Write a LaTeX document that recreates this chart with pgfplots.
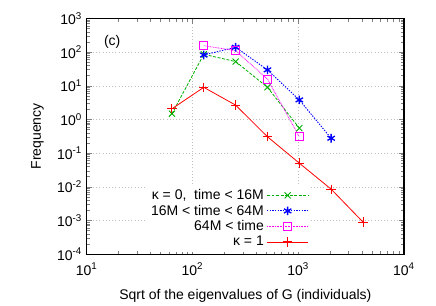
\documentclass[border=0pt]{standalone}
\usepackage{pgfplots}
\pgfplotsset{compat=1.18}
\usepackage{fontspec}
\setmainfont{Liberation Sans}
\definecolor{gnugreen}{RGB}{0,175,0}
\definecolor{gnublue}{RGB}{0,0,255}
\definecolor{gnumag}{RGB}{255,0,255}
\begin{document}
\begin{tikzpicture}[font=\fontsize{10.5}{12}\selectfont]
\useasboundingbox (-65pt,-38pt) rectangle (262pt,190.75pt);
\begin{axis}[
  scale only axis,
  width=238pt, height=176.8pt,
  xmode=log, ymode=log,
  xmin=10, xmax=10000, ymin=1e-4, ymax=1000,
  axis line style={line width=1.1pt},
  xtick={10,100,1000,10000},
  xticklabels={10\textsuperscript{1},10\textsuperscript{2},10\textsuperscript{3},10\textsuperscript{4}},
  ytick={1e-4,1e-3,1e-2,1e-1,1,10,100,1000},
  yticklabels={10\textsuperscript{-4},10\textsuperscript{-3},10\textsuperscript{-2},10\textsuperscript{-1},10\textsuperscript{0},10\textsuperscript{1},10\textsuperscript{2},10\textsuperscript{3}},
  tick label style={font=\fontsize{10.5}{12}\selectfont},
  xticklabel style={yshift=-3pt},
  tick align=inside,
  major tick length=4pt, minor tick length=2.2pt,
  tick style={line width=0.6pt},
  grid=major,
  major grid style={gray!50, dotted, line width=0.5pt},
  xlabel={Sqrt of the eigenvalues of G (individuals)},
  ylabel={Frequency},
  label style={font=\fontsize{10.5}{12}\selectfont},
  xlabel style={yshift=-4pt},
  ylabel style={yshift=3pt},
  legend style={draw=none, fill=white, anchor=south east, at={(rel axis cs:0.705,0.01)},
    font=\fontsize{10.5}{12}\selectfont, row sep=-1.4pt, inner sep=1pt},
  legend cell align=right,
  legend plot pos=right,
  legend image code/.code={
    \draw[mark repeat=2,mark phase=2,#1] plot coordinates {(0pt,0pt) (15.5pt,0pt) (31pt,0pt)};
  },
]
\addplot[draw=gnugreen, dash pattern=on 2.2pt off 1.2pt, line width=0.6pt, mark=x, mark size=3.2pt, mark options={solid, line width=0.7pt}]
  coordinates {(64,1.5) (128,87) (256,53) (512,9.1) (1024,0.56)};
\addlegendentry{κ = 0,\ \ time < 16M}
\addplot[draw=gnublue, dash pattern=on 1pt off 1pt, line width=0.7pt, mark=asterisk, mark size=3.2pt, mark options={solid, line width=1pt}]
  coordinates {(128,83) (256,141) (512,30) (1024,3.85) (2048,0.28)};
\addlegendentry{16M < time < 64M}
\addplot[draw=gnumag, dash pattern=on 0.6pt off 0.6pt, line width=0.6pt, mark=square, mark size=3pt, mark options={solid, line width=0.8pt}]
  coordinates {(128,157) (256,112) (512,16) (1024,0.31)};
\addlegendentry{64M < time}
\addplot[draw=red, line width=0.6pt, mark=+, mark size=3.5pt, mark options={solid, line width=0.7pt}]
  coordinates {(64,2.1) (128,9.1) (256,2.7) (512,0.31) (1024,0.051) (2048,0.0086) (4096,0.00091)};
\addlegendentry{κ = 1}
\node[anchor=west] at (rel axis cs:0.04,0.902) {(c)};
\end{axis}
\end{tikzpicture}
\end{document}
